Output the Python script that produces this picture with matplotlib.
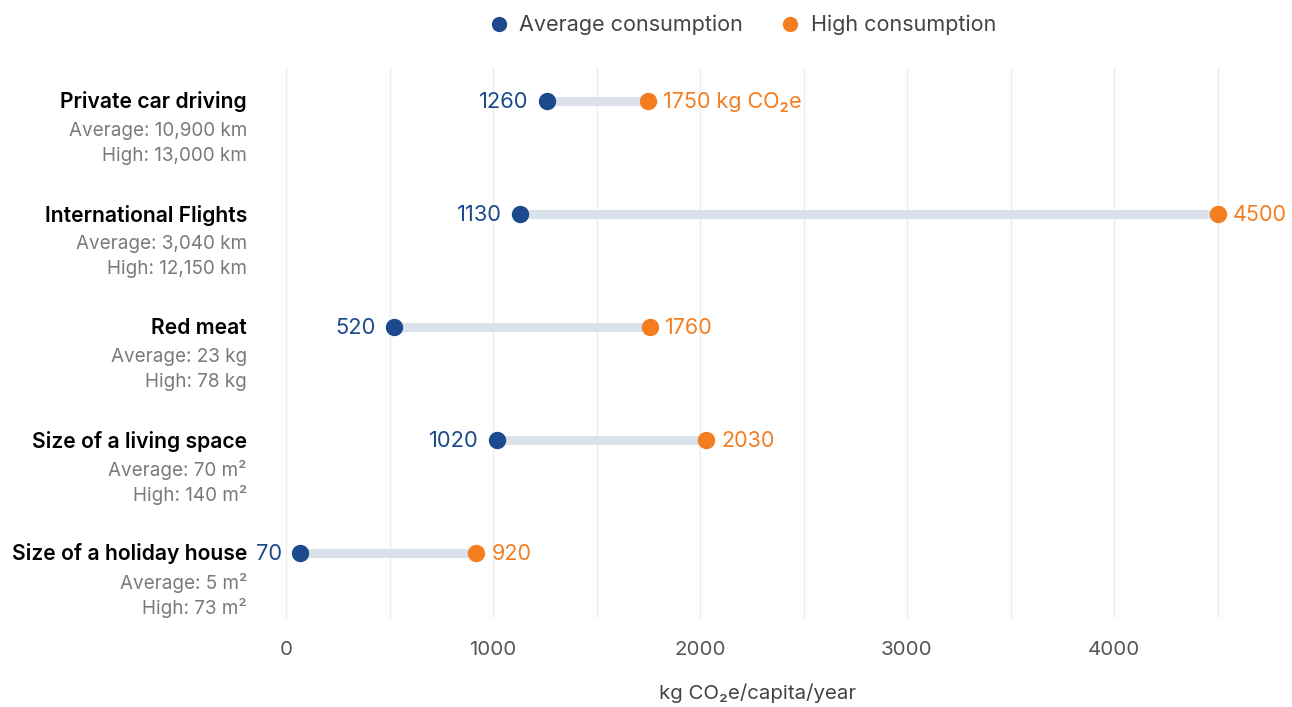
import matplotlib
matplotlib.use("Agg")
import matplotlib.pyplot as plt
from matplotlib.lines import Line2D

plt.rcParams['font.family'] = ['Inter', 'DejaVu Sans']

categories = ["Private car driving", "International Flights", "Red meat",
              "Size of a living space", "Size of a holiday house"]
avg_details = ["Average: 10,900 km", "Average: 3,040 km", "Average: 23 kg",
               "Average: 70 m²", "Average: 5 m²"]
high_details = ["High: 13,000 km", "High: 12,150 km", "High: 78 kg",
                "High: 140 m²", "High: 73 m²"]
average = [1260, 1130, 520, 1020, 70]
high = [1750, 4500, 1760, 2030, 920]
xticks = [0, 1000, 2000, 3000, 4000]

BLUE = "#1d4a8c"
ORANGE = "#f47d20"
BAR = "#dae1ea"
GRID = "#ececec"
GREY = "#7a7a7a"

W, H = 1292, 707
fig = plt.figure(figsize=(W / 100, H / 100), dpi=100)
x0_px, x45_px = 286, 1217.5
top_px, bot_px = 68, 617
ax = fig.add_axes([x0_px / W, 1 - bot_px / H, (x45_px - x0_px) / W, (bot_px - top_px) / H])
ax.set_xlim(0, 4500)
ax.set_ylim(4 + 64 / 113, -33 / 113)

for s in ax.spines.values():
    s.set_visible(False)
ax.set_yticks([])
ax.set_xticks(xticks)
ax.set_xticklabels([str(t) for t in xticks], fontsize=14.8, color="#555555")
ax.tick_params(axis='x', length=0, pad=17)
for g in range(0, 4501, 500):
    ax.axvline(g, color=GRID, lw=1, zorder=0, clip_on=False)

ys = list(range(len(categories)))
lab_x = 247 / W
for i, y in enumerate(ys):
    ax.plot([average[i], high[i]], [y, y], color=BAR, lw=6.5, solid_capstyle='butt', zorder=1)
    ax.plot(average[i], y, 'o', color=BLUE, ms=11.5, zorder=3, clip_on=False)
    ax.plot(high[i], y, 'o', color=ORANGE, ms=11.5, zorder=3, clip_on=False)
    ax.annotate(str(average[i]), (average[i], y), xytext=(-18, -1), textcoords='offset pixels',
                ha='right', va='center', fontsize=15.8, color=BLUE)
    hl = f"{high[i]} kg CO₂e" if i == 0 else str(high[i])
    ax.annotate(hl, (high[i], y), xytext=(15, -1), textcoords='offset pixels',
                ha='left', va='center', fontsize=15.5, color=ORANGE)
    ax.annotate(categories[i], (lab_x, y), xycoords=(fig.transFigure, ax.transData),
                xytext=(0, -1), textcoords='offset pixels',
                ha='right', va='center', fontsize=15.2, fontweight='semibold', color='black')
    ax.annotate(avg_details[i], (lab_x, y), xycoords=(fig.transFigure, ax.transData),
                xytext=(0, -30), textcoords='offset pixels',
                ha='right', va='center', fontsize=13.6, color=GREY)
    ax.annotate(high_details[i], (lab_x, y), xycoords=(fig.transFigure, ax.transData),
                xytext=(0, -55), textcoords='offset pixels',
                ha='right', va='center', fontsize=13.6, color=GREY)

fig.text(758 / W, 1 - 693 / H, "kg CO₂e/capita/year", ha='center', va='center',
         fontsize=14.7, color="#444444")

handles = [Line2D([], [], marker='o', ls='', color=BLUE, ms=10),
           Line2D([], [], marker='o', ls='', color=ORANGE, ms=10)]
fig.legend(handles, ["Average consumption", "High consumption"], ncol=2,
           loc='center', bbox_to_anchor=(742 / W, 1 - 25 / H), frameon=False,
           fontsize=15.5, labelcolor="#444444", handletextpad=0.45, columnspacing=1.7,
           handlelength=1.0)

fig.savefig("out.png", dpi=100)
